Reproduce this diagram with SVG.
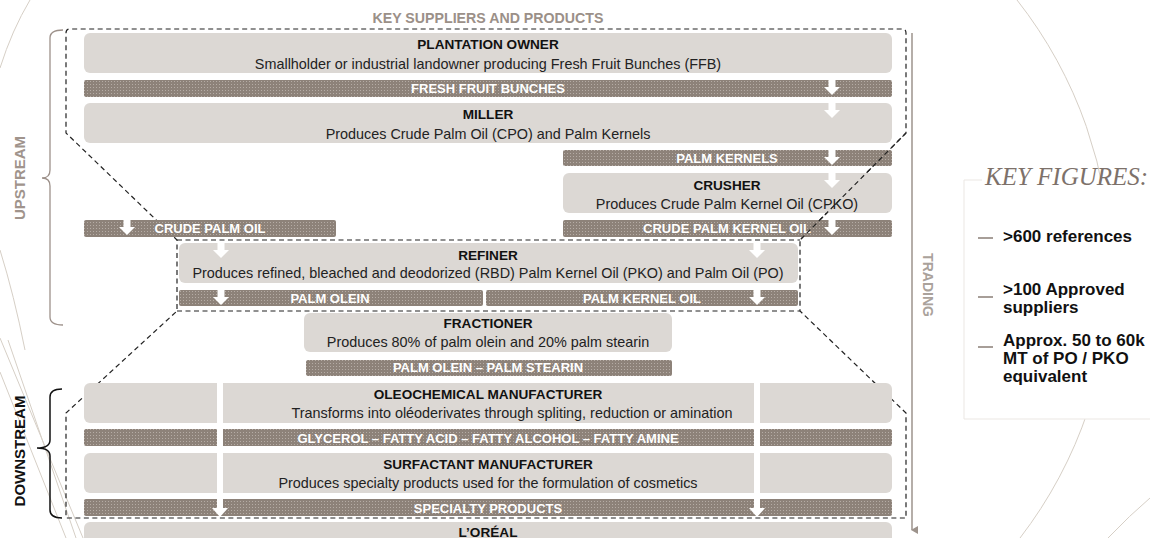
<svg xmlns="http://www.w3.org/2000/svg" xmlns:xlink="http://www.w3.org/1999/xlink" width="1150" height="538" viewBox="0 0 1150 538">
<defs>
<pattern id="dots" width="3" height="3" patternUnits="userSpaceOnUse"><rect width="3" height="3" fill="#8d8279"/><rect width="1" height="1" fill="#b5aca5"/></pattern>
<path id="arr" d="M-3.5,0 H3.5 V7 H8 L0,15 L-8,7 H-3.5 Z" fill="#ffffff"/>
<marker id="tri" markerWidth="8" markerHeight="8" refX="4" refY="6" orient="auto-start-reverse" markerUnits="userSpaceOnUse"><path d="M0,0 L8,0 L4,7 Z" fill="#9d938c"/></marker>
</defs>
<style>
.box{fill:#dcd8d4}
.bar{fill:url(#dots)}
.ti{font-family:"Liberation Sans",Arial,sans-serif;font-weight:bold;font-size:13.6px;fill:#111;text-anchor:middle}
.su{font-family:"Liberation Sans",Arial,sans-serif;font-size:14.4px;fill:#222;text-anchor:middle}
.bt{font-family:"Liberation Sans",Arial,sans-serif;font-weight:bold;font-size:13px;fill:#ffffff;text-anchor:middle}
.dash{fill:none;stroke:#222;stroke-width:1.2;stroke-dasharray:5 3.5}
.deco{fill:none;stroke:#d6cfc6;stroke-width:1}
.side{font-family:"Liberation Sans",Arial,sans-serif;font-weight:bold;font-size:15px;text-anchor:middle}
.kf{font-family:"Liberation Sans",Arial,sans-serif;font-weight:bold;font-size:17px;fill:#111}
.kd{stroke:#8a7e76;stroke-width:1.5}
</style>
<rect width="1150" height="538" fill="#ffffff"/>
<g id="decoration">
<path class="deco" d="M30,0 Q12,30 0,68"/>
<path class="deco" d="M0,250 Q14,295 25,350"/>
<path class="deco" d="M0,338 L83,538"/>
<path class="deco" d="M8,340 L76,538"/>
<path class="deco" d="M0,372 L66,538"/>
<path class="deco" d="M1017,0 A438,438 0 0 1 1020,538"/>
<path class="deco" d="M1150,498 Q1130,515 1108,538"/>
</g>
<g id="outline">
<path class="dash" d="M66,33 Q66,29 70,29 H902 Q906,29 906,33 V133 L800,240 V311 L906,413 V518 H66 V413 L177,311 V240 L66,133 Z"/>
<path class="dash" d="M177,240 H800 M177,311 H800"/>
</g>
<text x="488" y="23" class="ti" style="fill:#9b9088;font-size:14.2px">KEY SUPPLIERS AND PRODUCTS</text>
<g id="plantation-owner"><rect class="box" x="84" y="33" width="808" height="40" rx="6"/><text class="ti" x="488" y="49">PLANTATION OWNER</text><text class="su" x="488" y="69">Smallholder or industrial landowner producing Fresh Fruit Bunches (FFB)</text></g>
<g id="fresh-fruit-bunches"><rect class="bar" x="84" y="80" width="808" height="17" rx="2"/><text class="bt" x="488" y="93">FRESH FRUIT BUNCHES</text></g>
<g id="miller"><rect class="box" x="84" y="103" width="808" height="40" rx="6"/><text class="ti" x="488" y="119">MILLER</text><text class="su" x="488" y="139">Produces Crude Palm Oil (CPO) and Palm Kernels</text></g>
<g id="palm-kernels"><rect class="bar" x="563" y="150" width="329" height="16" rx="2"/><text class="bt" x="727" y="163">PALM KERNELS</text></g>
<g id="crusher"><rect class="box" x="563" y="173" width="329" height="40" rx="6"/><text class="ti" x="727" y="190">CRUSHER</text><text class="su" x="727" y="209">Produces Crude Palm Kernel Oil (CPKO)</text></g>
<g id="crude-palm-oil"><rect class="bar" x="84" y="220" width="252" height="17" rx="2"/><text class="bt" x="210" y="233">CRUDE PALM OIL</text></g>
<g id="crude-palm-kernel-oil"><rect class="bar" x="563" y="220" width="329" height="17" rx="2"/><text class="bt" x="727" y="233">CRUDE PALM KERNEL OIL</text></g>
<g id="refiner"><rect class="box" x="179" y="243" width="619" height="40" rx="6"/><text class="ti" x="488" y="260">REFINER</text><text class="su" x="488" y="278">Produces refined, bleached and deodorized (RBD) Palm Kernel Oil (PKO) and Palm Oil (PO)</text></g>
<g id="palm-olein"><rect class="bar" x="179" y="290" width="304" height="16" rx="2"/><text class="bt" x="330" y="303">PALM OLEIN</text></g>
<g id="palm-kernel-oil"><rect class="bar" x="486" y="290" width="312" height="16" rx="2"/><text class="bt" x="642" y="303">PALM KERNEL OIL</text></g>
<g id="fractioner"><rect class="box" x="304" y="313" width="368" height="39" rx="6"/><text class="ti" x="488" y="328">FRACTIONER</text><text class="su" x="488" y="347">Produces 80% of palm olein and 20% palm stearin</text></g>
<g id="palm-olein-stearin"><rect class="bar" x="306" y="360" width="366" height="16" rx="2"/><text class="bt" x="488" y="372">PALM OLEIN – PALM STEARIN</text></g>
<g id="oleochemical"><rect class="box" x="84" y="383" width="808" height="40" rx="6"/><text class="ti" x="488" y="399">OLEOCHEMICAL MANUFACTURER</text><text class="su" x="512" y="418">Transforms into oléoderivates through spliting, reduction or amination</text></g>
<g id="glycerol"><rect class="bar" x="84" y="429" width="808" height="17" rx="2"/><text class="bt" x="488" y="443">GLYCEROL – FATTY ACID – FATTY ALCOHOL – FATTY AMINE</text></g>
<g id="surfactant"><rect class="box" x="84" y="453" width="808" height="40" rx="6"/><text class="ti" x="488" y="469">SURFACTANT MANUFACTURER</text><text class="su" x="488" y="488">Produces specialty products used for the formulation of cosmetics</text></g>
<g id="specialty-products"><rect class="bar" x="84" y="499" width="808" height="17" rx="2"/><text class="bt" x="488" y="513">SPECIALTY PRODUCTS</text></g>
<g id="loreal"><rect class="box" x="84" y="522" width="808" height="30" rx="6"/><text class="ti" x="488" y="537">L’ORÉAL</text></g>
<g id="connectors">
<use xlink:href="#arr" href="#arr" x="832" y="80"/>
<use xlink:href="#arr" href="#arr" x="832" y="103"/>
<use xlink:href="#arr" href="#arr" x="832" y="150"/>
<use xlink:href="#arr" href="#arr" x="832" y="173"/>
<use xlink:href="#arr" href="#arr" x="832" y="220"/>
<use xlink:href="#arr" href="#arr" x="127" y="220"/>
<use xlink:href="#arr" href="#arr" x="221" y="243"/>
<use xlink:href="#arr" href="#arr" x="757" y="243"/>
<use xlink:href="#arr" href="#arr" x="221" y="290"/>
<use xlink:href="#arr" href="#arr" x="757" y="290"/>
<path d="M217,383 H223 V508 H228 L220,517 L212,508 H217 Z" fill="#ffffff"/>
<path d="M754,383 H760 V508 H765 L757,517 L749,508 H754 Z" fill="#ffffff"/>
<path class="dash" d="M906,133 L800,240"/>
<line x1="912" y1="33" x2="912" y2="530" stroke="#9d938c" stroke-width="1.5" marker-end="url(#tri)"/>
</g>
<g id="upstream">
<path d="M63,30 Q50,30 50,38 V170 Q50,178 42,178 Q50,178 50,186 V317 Q50,325 63,325" fill="none" stroke="#9d918a" stroke-width="1.3"/>
<text class="side" transform="translate(25,178) rotate(-90)" style="fill:#a0948c">UPSTREAM</text>
</g>
<g id="downstream">
<path d="M62,389 Q50,389 50,397 V440 Q50,448 37,448 Q50,448 50,456 V510 Q50,518 62,518" fill="none" stroke="#111" stroke-width="1.5"/>
<text class="side" transform="translate(25,451) rotate(-90)" style="fill:#111">DOWNSTREAM</text>
</g>
<g id="trading">
<text class="side" transform="translate(923,285) rotate(90)" style="fill:#aaa29b;font-size:14px">TRADING</text>
</g>
<g id="key-figures">
<path d="M982,180 H964 V419 H1150" fill="#ffffff" stroke="#ebe7e3" stroke-width="1"/>
<rect x="965" y="181" width="185" height="237" fill="#ffffff"/>
<text x="985" y="185" style="font-family:'Liberation Serif','Times New Roman',serif;font-style:italic;font-size:25px;fill:#7d716a">KEY FIGURES:</text>
<line class="kd" x1="978" y1="238" x2="993" y2="238"/>
<text class="kf" x="1003" y="242">&gt;600 references</text>
<line class="kd" x1="978" y1="297" x2="993" y2="297"/>
<text class="kf" x="1003" y="295">&gt;100 Approved</text>
<text class="kf" x="1003" y="313">suppliers</text>
<line class="kd" x1="978" y1="347" x2="993" y2="347"/>
<text class="kf" x="1003" y="346">Approx. 50 to 60k</text>
<text class="kf" x="1003" y="364">MT of PO / PKO</text>
<text class="kf" x="1003" y="382">equivalent</text>
</g>
</svg>
